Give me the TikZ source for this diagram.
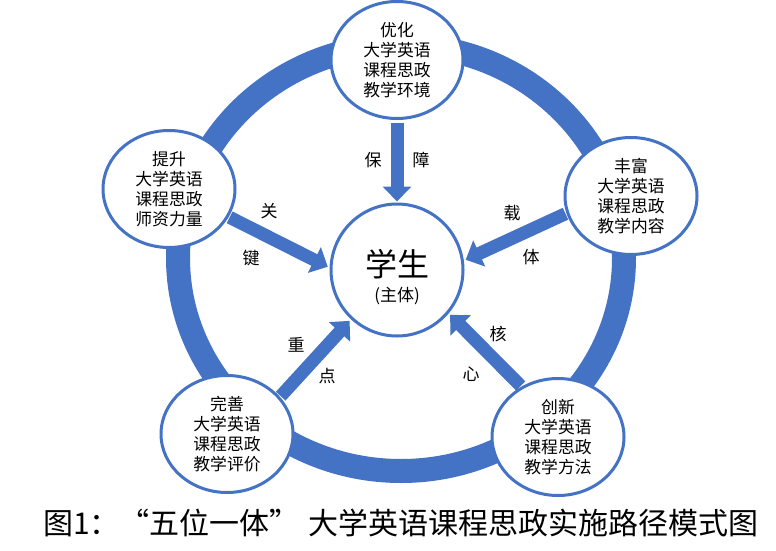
\documentclass[tikz,border=0pt]{standalone}
\usepackage{fontspec}
\setmainfont{Noto Sans CJK SC}
\usetikzlibrary{shapes.geometric,arrows.meta}
\definecolor{ringblue}{HTML}{4472C4}
\begin{document}
\begin{tikzpicture}[x=1pt,y=-1pt,
  pnode/.style={ellipse,draw=ringblue,line width=3pt,fill=white,minimum width=132pt,minimum height=117pt,inner sep=0pt,align=center,font=\fontsize{16.8}{20}\selectfont},
  cnode/.style={circle,draw=ringblue,line width=3pt,fill=white,minimum size=132pt,inner sep=0pt},
  bigarrow/.style={draw=ringblue,line width=13pt,-{Triangle[width=28pt,length=15pt]}},
  lbl/.style={font=\fontsize{17}{20}\selectfont,inner sep=0pt},
  captext/.style={font=\fontsize{30}{34}\selectfont,inner sep=0pt}]
\useasboundingbox (0,0) rectangle (776,551);
\fill[white] (0,0) rectangle (776,551);
% ring
\draw[ringblue,line width=24pt] (401,258) ellipse [x radius=223, y radius=213];
% nodes
\node[pnode] (top) at (397,60) {优化\\大学英语\\课程思政\\教学环境};
\node[pnode] (left) at (169,189) {提升\\大学英语\\课程思政\\师资力量};
\node[pnode] (right) at (631,196) {丰富\\大学英语\\课程思政\\教学内容};
\node[pnode] (bl) at (227,434) {完善\\大学英语\\课程思政\\教学评价};
\node[pnode] (br) at (558,437) {创新\\大学英语\\课程思政\\教学方法};
\node[cnode] (stu) at (397,270) {};
\node[font=\fontsize{32}{36}\selectfont,inner sep=0pt] (stutext) at (397,264) {学生};
\node[font=\fontsize{17}{20}\selectfont,inner sep=0pt] (subtext) at (397,296) {(主体)};
% arrows
\draw[bigarrow,shorten <=3pt,shorten >=1pt] (top.south) -- (stu.north);
\draw[bigarrow,shorten <=1pt,shorten >=2pt] (left.-25) -- (stu.178);
\draw[bigarrow,shorten <=1pt,shorten >=2pt] (right.195) -- (stu.8);
\draw[bigarrow,shorten <=1pt,shorten >=2pt] (bl.35) -- (stu.227);
\draw[bigarrow,shorten <=1pt,shorten >=2pt] (br.126) -- (stu.-40);
% labels
\node[lbl] (l1) at (373,160) {保};
\node[lbl] (l2) at (421,160) {障};
\node[lbl] (l3) at (269,211) {关};
\node[lbl] (l4) at (251,258) {键};
\node[lbl] (l5) at (512,213) {载};
\node[lbl] (l6) at (531,257) {体};
\node[lbl] (l7) at (296,345) {重};
\node[lbl] (l8) at (327,376) {点};
\node[lbl] (l9) at (498,334) {核};
\node[lbl] (l10) at (471,374) {心};
% caption
\node[captext,anchor=west] (caption) at (43,523) {图1：“五位一体”\hspace{9pt}大学英语课程思政实施路径模式图};
\end{tikzpicture}
\end{document}
